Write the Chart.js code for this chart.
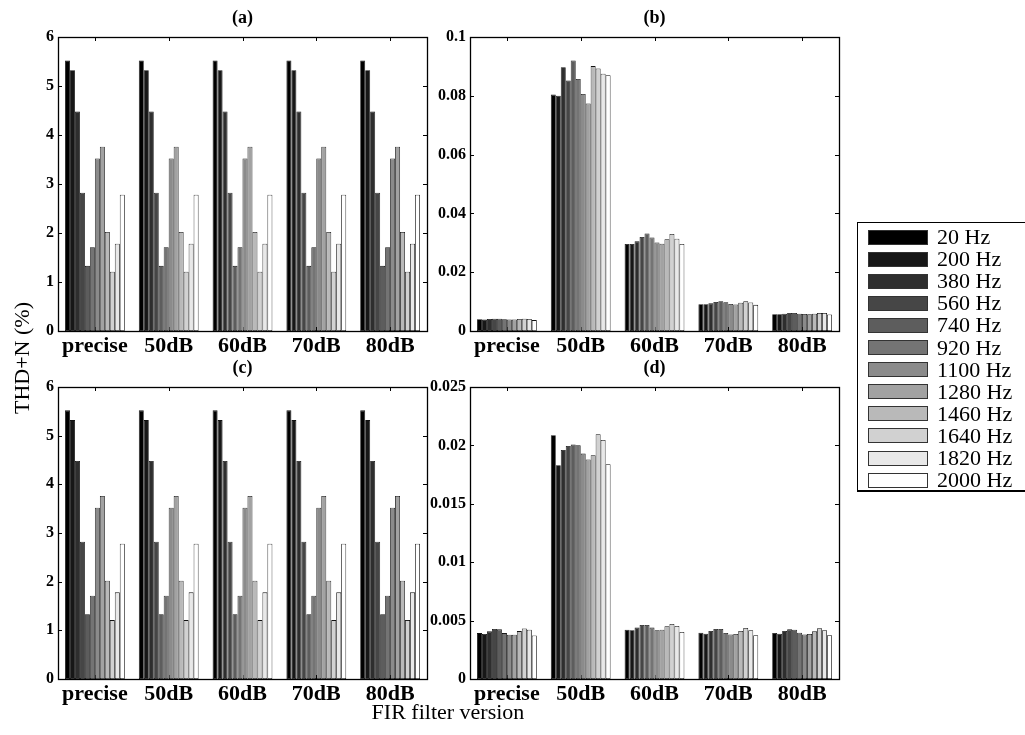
<!DOCTYPE html>
<html>
<head>
<meta charset="UTF-8">
<title>THD+N by FIR filter version</title>
<script src="https://cdn.jsdelivr.net/npm/chart.js@4.4.0/dist/chart.umd.min.js"></script>
<style>
  body { margin: 0; background: #fff; }
  #wrap { position: relative; width: 1025px; height: 735px; overflow: hidden;
          font-family: "Liberation Serif", "Times New Roman", serif; color: #000; }
  #wrap canvas { position: absolute; left: 0; top: 0; }
  .ylab { position: absolute; left: 22px; top: 358px; font-size: 22px; white-space: nowrap;
          transform: translate(-50%, -50%) rotate(-90deg); }
  .xlab { position: absolute; left: 448px; top: 712px; font-size: 22px; white-space: nowrap;
          transform: translate(-50%, -50%); }
  #legend { position: absolute; left: 857px; top: 222px; width: 175px; height: 270px;
            border: 1px solid #000; border-bottom-width: 2px; box-sizing: border-box; }
  #legend .row { position: absolute; left: 10px; height: 22px; display: flex; align-items: center; }
  #legend .sw { width: 60px; height: 15px; border: 1px solid #333; box-sizing: border-box; }
  #legend .tx { margin-left: 9px; font-size: 22px; line-height: 22px; }
</style>
</head>
<body>
<div id="wrap">
  <canvas id="pa" width="1025" height="735"></canvas>
  <canvas id="pb" width="1025" height="735"></canvas>
  <canvas id="pc" width="1025" height="735"></canvas>
  <canvas id="pd" width="1025" height="735"></canvas>
  <div class="ylab">THD+N (%)</div>
  <div class="xlab">FIR filter version</div>
  <div id="legend"></div>
</div>

<script>
// categories and series names
const versions = ['precise', '50dB', '60dB', '70dB', '80dB']
const freqs = ['20 Hz', '200 Hz', '380 Hz', '560 Hz', '740 Hz', '920 Hz',
               '1100 Hz', '1280 Hz', '1460 Hz', '1640 Hz', '1820 Hz', '2000 Hz']

// one row per filter version, one value per frequency
const thdA = [
  [5.52, 5.32, 4.48, 2.82, 1.33, 1.71, 3.52, 3.76, 2.02, 1.21, 1.78, 2.78],
  [5.52, 5.32, 4.48, 2.82, 1.33, 1.71, 3.52, 3.76, 2.02, 1.21, 1.78, 2.78],
  [5.52, 5.32, 4.48, 2.82, 1.33, 1.71, 3.52, 3.76, 2.02, 1.21, 1.78, 2.78],
  [5.52, 5.32, 4.48, 2.82, 1.33, 1.71, 3.52, 3.76, 2.02, 1.21, 1.78, 2.78],
  [5.52, 5.32, 4.48, 2.82, 1.33, 1.71, 3.52, 3.76, 2.02, 1.21, 1.78, 2.78]
]
const thdB = [
  [0.0040, 0.0039, 0.0041, 0.0042, 0.0042, 0.0040, 0.0039, 0.0039, 0.0041, 0.0042, 0.0041, 0.0037],
  [0.0804, 0.0800, 0.0897, 0.0852, 0.0920, 0.0857, 0.0806, 0.0774, 0.0901, 0.0893, 0.0875, 0.0870],
  [0.0296, 0.0296, 0.0305, 0.0320, 0.0332, 0.0318, 0.0301, 0.0297, 0.0312, 0.0330, 0.0314, 0.0296],
  [0.0091, 0.0091, 0.0094, 0.0099, 0.0101, 0.0098, 0.0092, 0.0090, 0.0096, 0.0101, 0.0097, 0.0089],
  [0.0057, 0.0057, 0.0059, 0.0061, 0.0061, 0.0059, 0.0058, 0.0057, 0.0059, 0.0061, 0.0061, 0.0056]
]
const thdC = [
  [5.52, 5.32, 4.48, 2.82, 1.33, 1.71, 3.52, 3.76, 2.02, 1.21, 1.78, 2.78],
  [5.52, 5.32, 4.48, 2.82, 1.33, 1.71, 3.52, 3.76, 2.02, 1.21, 1.78, 2.78],
  [5.52, 5.32, 4.48, 2.82, 1.33, 1.71, 3.52, 3.76, 2.02, 1.21, 1.78, 2.78],
  [5.52, 5.32, 4.48, 2.82, 1.33, 1.71, 3.52, 3.76, 2.02, 1.21, 1.78, 2.78],
  [5.52, 5.32, 4.48, 2.82, 1.33, 1.71, 3.52, 3.76, 2.02, 1.21, 1.78, 2.78]
]
const thdD = [
  [0.00393, 0.00385, 0.00408, 0.00428, 0.00425, 0.00393, 0.00379, 0.00379, 0.00410, 0.00433, 0.00422, 0.00373],
  [0.02087, 0.01830, 0.01961, 0.01995, 0.02007, 0.02001, 0.01930, 0.01879, 0.01916, 0.02095, 0.02047, 0.01839],
  [0.00422, 0.00417, 0.00440, 0.00462, 0.00462, 0.00440, 0.00417, 0.00422, 0.00451, 0.00471, 0.00454, 0.00402],
  [0.00397, 0.00388, 0.00411, 0.00428, 0.00428, 0.00394, 0.00382, 0.00385, 0.00411, 0.00437, 0.00417, 0.00374],
  [0.00394, 0.00388, 0.00411, 0.00425, 0.00422, 0.00397, 0.00382, 0.00385, 0.00408, 0.00434, 0.00417, 0.00374]
]

const barColors = ['#000000', '#171717', '#2e2e2e', '#464646', '#5d5d5d', '#747474',
                   '#8b8b8b', '#a2a2a2', '#b9b9b9', '#d1d1d1', '#e8e8e8', '#ffffff']

const serif = "'Liberation Serif', 'Times New Roman', serif"
const W = 1025, H = 735
const YW = 48   // room kept for the y tick labels
const XH = 39   // room kept for the category labels

// matlab-ish box with inward ticks + panel title
const boxPlugin = {
  id: 'box',
  beforeDatasetsDraw(chart) {
    const { ctx, chartArea: a, scales } = chart
    ctx.save()
    ctx.strokeStyle = '#000'
    ctx.lineWidth = 1
    ctx.beginPath()
    scales.y.ticks.forEach((t, i) => {
      const y = Math.round(scales.y.getPixelForTick(i)) + 0.5
      ctx.moveTo(a.left, y); ctx.lineTo(a.left + 4, y)
      ctx.moveTo(a.right, y); ctx.lineTo(a.right - 4, y)
    })
    scales.x.ticks.forEach((t, i) => {
      const x = Math.round(scales.x.getPixelForTick(i)) + 0.5
      ctx.moveTo(x, a.top); ctx.lineTo(x, a.top + 4)
      ctx.moveTo(x, a.bottom); ctx.lineTo(x, a.bottom - 4)
    })
    ctx.stroke()
    ctx.restore()
  },
  afterDatasetsDraw(chart, args, opts) {
    const { ctx, chartArea: a } = chart
    ctx.save()
    ctx.strokeStyle = '#000'
    ctx.lineWidth = 1.3
    ctx.strokeRect(Math.round(a.left) + 0.5, Math.round(a.top) + 0.5,
                   Math.round(a.right - a.left), Math.round(a.bottom - a.top))
    ctx.fillStyle = '#000'
    ctx.font = 'bold 18px ' + serif
    ctx.textAlign = 'center'
    ctx.textBaseline = 'middle'
    ctx.fillText(opts.text, (a.left + a.right) / 2, a.top - 19)
    ctx.restore()
  }
}

function makePanel(id, rows, yMax, yStep, area, title) {
  const datasets = freqs.map((f, i) => ({
    label: f,
    data: rows.map(r => r[i]),
    backgroundColor: barColors[i],
    borderColor: '#111',
    borderWidth: 0.8,
    borderSkipped: false,
    categoryPercentage: 0.81,
    barPercentage: 1.0
  }))
  return new Chart(document.getElementById(id), {
    type: 'bar',
    data: { labels: versions, datasets: datasets },
    plugins: [boxPlugin],
    options: {
      responsive: false,
      animation: false,
      events: [],
      layout: {
        padding: {
          left: area.left - YW,
          top: area.top,
          right: W - area.right,
          bottom: H - area.bottom - XH
        }
      },
      plugins: {
        legend: { display: false },
        tooltip: { enabled: false },
        box: { text: title }
      },
      scales: {
        x: {
          grid: { display: false, drawTicks: false },
          border: { display: false },
          ticks: { color: '#000', padding: 2, maxRotation: 0,
                   font: { family: serif, size: 22, weight: 'bold' } },
          afterFit(s) { s.height = XH }
        },
        y: {
          min: 0, max: yMax,
          grid: { display: false, drawTicks: false },
          border: { display: false },
          ticks: { stepSize: yStep, color: '#000', padding: 4,
                   font: { family: serif, size: 16, weight: 'bold' },
                   callback: v => String(Number(v.toFixed(4))) },
          afterFit(s) { s.width = YW }
        }
      }
    }
  })
}

makePanel('pa', thdA, 6, 1, { left: 58, top: 37, right: 427, bottom: 331 }, '(a)')
makePanel('pb', thdB, 0.1, 0.02, { left: 470, top: 37, right: 839, bottom: 331 }, '(b)')
makePanel('pc', thdC, 6, 1, { left: 58, top: 387, right: 427, bottom: 679 }, '(c)')
makePanel('pd', thdD, 0.025, 0.005, { left: 470, top: 387, right: 839, bottom: 679 }, '(d)')

// legend box on the right
const legend = document.getElementById('legend')
freqs.forEach((f, i) => {
  const row = document.createElement('div')
  row.className = 'row'
  row.style.top = (3 + i * 22.1) + 'px'
  const sw = document.createElement('div')
  sw.className = 'sw'
  sw.style.background = barColors[i]
  const tx = document.createElement('span')
  tx.className = 'tx'
  tx.textContent = f
  row.appendChild(sw)
  row.appendChild(tx)
  legend.appendChild(row)
})
</script>
</body>
</html>
